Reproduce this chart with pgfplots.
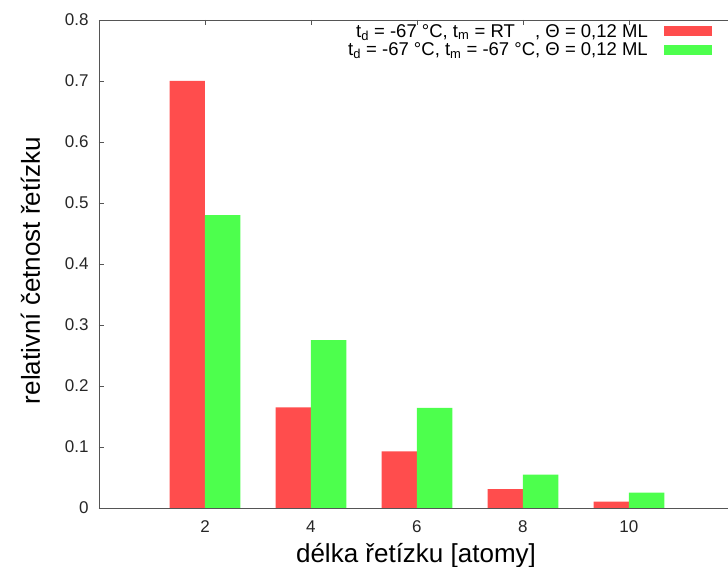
\documentclass[border=0pt]{standalone}
\usepackage{pgfplots}
\pgfplotsset{compat=1.18}
\usepackage{fontspec}
\setmainfont{Liberation Sans}
\definecolor{barred}{RGB}{255,77,77}
\definecolor{bargreen}{RGB}{77,255,77}
\definecolor{axgray}{RGB}{85,85,85}
\begin{document}
\begin{tikzpicture}
\begin{axis}[
  name=ax,
  scale only axis,
  width=629pt, height=488pt,
  xmin=0, xmax=11.87, ymin=0, ymax=0.8,
  axis x line*=box, axis y line*=left,
  axis line style={axgray, line width=0.9pt},
  xtick={2,4,6,8,10},
  ytick={0,0.1,0.2,0.3,0.4,0.5,0.6,0.7,0.8},
  yticklabels={0,0.1,0.2,0.3,0.4,0.5,0.6,0.7,0.8},
  tick align=inside,
  major tick length=5pt,
  tick style={axgray, line width=0.8pt},
  minor tick num=0,
  /pgf/number format/assume math mode=true,
  ticklabel style={font=\fontsize{17}{20}\selectfont, text=black!85},
  yticklabel style={xshift=-7pt},
  xticklabel style={yshift=-9pt},
  xlabel={délka řetízku [atomy]},
  ylabel={relativní četnost řetízku},
  label style={font=\fontsize{26}{30}\selectfont},
  xlabel style={at={([yshift=-54.7pt]axis description cs:0.504,0)}, anchor=base},
  ylabel style={at={([xshift=-59pt]axis description cs:0,0.487)}, anchor=base, rotate=0},
  legend style={draw=none, fill=none, at={(rel axis cs:1,1)}, anchor=north east,
    xshift=-13pt, yshift=-1pt, font=\fontsize{18.5}{19}\selectfont, row sep=2pt,
    nodes={inner xsep=8pt, inner ysep=1pt}},
  legend cell align=right,
  legend plot pos=right,
  legend image code/.code={\path (0pt,0pt); \fill[#1] (8pt,-5pt) rectangle (56pt,5pt);},
]
\addplot[ybar, bar width=0.667, bar shift=-0.3335, fill=barred, draw=none]
  coordinates {(2,0.700) (4,0.165) (6,0.093) (8,0.031) (10,0.0103)};
\addlegendentry{t\textsubscript{d} = -67 °C, t\textsubscript{m} = RT\hspace{1.1em}, Θ = 0,12 ML}
\addplot[ybar, bar width=0.667, bar shift=0.3335, fill=bargreen, draw=none]
  coordinates {(2,0.480) (4,0.275) (6,0.164) (8,0.0546) (10,0.025)};
\addlegendentry{t\textsubscript{d} = -67 °C, t\textsubscript{m} = -67 °C, Θ = 0,12 ML}
\end{axis}
\pgfresetboundingbox
\path ([shift={(-99pt,-59pt)}]ax.south west) rectangle ([shift={(0pt,20pt)}]ax.north east);
\end{tikzpicture}
\end{document}
